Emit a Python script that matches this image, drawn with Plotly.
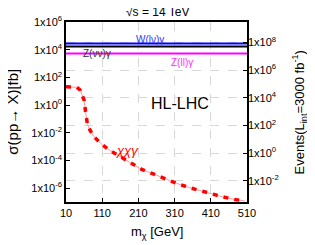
import plotly.graph_objects as go
import numpy as np

# ---- data ----
m_chi = [10, 40, 49, 55, 60, 64, 69, 76, 84, 95, 106, 130, 164, 192, 219, 251, 283, 316, 348, 380, 412, 444, 477, 504]
sigma_chichigamma = [21, 19.4, 12.3, 5.5, 2.3, 0.33, 0.044, 0.016, 0.0069, 0.0032, 0.0017, 5.5e-4, 1.7e-4, 5.6e-5, 2.3e-5, 1.07e-5, 4.6e-6, 2.2e-6, 1.15e-6, 6.6e-7, 4.0e-7, 2.3e-7, 1.5e-7, 1.2e-7]
x_span = [10, 510]
sigma_W = [2.8e4, 2.8e4]
sigma_Znn = [1.7e4, 1.7e4]
sigma_Zll = [5.4e3, 5.4e3]
lumi = 3000
x_ticks = [10, 110, 210, 310, 410, 510]
left_exps = [-6, -4, -2, 0, 2, 4, 6]
right_exps = [-2, 0, 2, 4, 6, 8]

FONT = "Liberation Sans"
fig = go.Figure()

fig.add_trace(go.Scatter(x=x_span, y=sigma_W, mode="lines", line=dict(color="#0000ff", width=2), showlegend=False))
fig.add_trace(go.Scatter(x=x_span, y=sigma_Znn, mode="lines", line=dict(color="#000000", width=2), showlegend=False))
fig.add_trace(go.Scatter(x=x_span, y=sigma_Zll, mode="lines", line=dict(color="#ff00ff", width=2), showlegend=False))
fig.add_trace(go.Scatter(x=m_chi, y=sigma_chichigamma, mode="lines", line=dict(color="#ff9c9c", width=1), showlegend=False))
fig.add_trace(go.Scatter(x=m_chi, y=sigma_chichigamma, mode="lines", line=dict(color="#ff0000", width=3.5, dash="5px,6px"), showlegend=False))
# invisible trace on event axis
fig.add_trace(go.Scatter(x=m_chi, y=[s * lumi for s in sigma_chichigamma], yaxis="y2", mode="lines",
                         line=dict(width=0), opacity=0, showlegend=False, hoverinfo="skip"))

def sup(e):
    return "1x10<sup>%d</sup>" % e

fig.update_layout(
    width=307, height=237,
    margin=dict(l=58, r=68, t=14, b=43),
    paper_bgcolor="white", plot_bgcolor="white",
    font=dict(family=FONT, size=11, color="black"),
    xaxis=dict(range=[10, 510], tickvals=x_ticks, ticktext=[str(v) for v in x_ticks],
               showgrid=True, gridcolor="#d8d8d8", griddash="dash", gridwidth=1,
               showline=True, linecolor="black", linewidth=1.5, mirror=True,
               ticks="inside", ticklen=4, tickcolor="black", zeroline=False,
               tickfont=dict(size=11), automargin=False),
    yaxis=dict(type="log", range=[-7, 6], tickvals=[10.0 ** e for e in left_exps],
               ticktext=[sup(e) for e in left_exps], showgrid=False,
               showline=True, linecolor="black", linewidth=1.5, mirror=True,
               ticks="inside", ticklen=4, tickcolor="black", zeroline=False,
               tickfont=dict(size=11), automargin=False),
    yaxis2=dict(type="log", overlaying="y", side="right",
                range=[-7 + np.log10(lumi), 6 + np.log10(lumi)],
                tickvals=[10.0 ** e for e in right_exps], ticktext=[sup(e) for e in right_exps],
                showgrid=True, gridcolor="#d8d8d8", griddash="dash", gridwidth=1,
                ticks="inside", ticklen=4, tickcolor="black", zeroline=False, showline=False,
                tickfont=dict(size=11), automargin=False),
)

ann = []
ann.append(dict(text="√s = 14 TeV", xref="paper", yref="paper", x=0.503, y=1.056, showarrow=False,
                font=dict(size=12), xanchor="center", yanchor="middle"))
ann.append(dict(text="m<sub>χ</sub> [GeV]", xref="paper", yref="paper", x=0.503, y=-0.17, showarrow=False,
                font=dict(size=13), xanchor="center", yanchor="middle"))
ann.append(dict(text="σ(pp→ X)[fb]", xref="paper", yref="paper", x=-0.30, y=0.5, showarrow=False,
                font=dict(size=15), textangle=-90, xanchor="center", yanchor="middle"))
ann.append(dict(text="Events(L<sub>int</sub>=3000 fb<sup>-1</sup>)", xref="paper", yref="paper", x=1.29, y=0.5,
                showarrow=False, font=dict(size=13), textangle=-90, xanchor="center", yanchor="middle"))
ann.append(dict(text="W(lν)γ", x=242, y=4.77, xref="x", yref="y", showarrow=False,
                font=dict(size=10, color="#3333ff")))
ann.append(dict(text="Z(νν)γ", x=96, y=3.69, xref="x", yref="y", showarrow=False,
                font=dict(size=10, color="#333333")))
ann.append(dict(text="Z(ll)γ", x=330, y=3.11, xref="x", yref="y", showarrow=False,
                font=dict(size=10, color="#ff33ff")))
ann.append(dict(text="<i>χχγ</i>", x=181, y=-3.31, xref="x", yref="y", showarrow=False,
                font=dict(size=13, color="#ff0000")))
ann.append(dict(text="HL-LHC", x=325, y=0.08, xref="x", yref="y", showarrow=False,
                font=dict(size=16, color="black")))
fig.update_layout(annotations=ann)

fig.write_html("out.html")
